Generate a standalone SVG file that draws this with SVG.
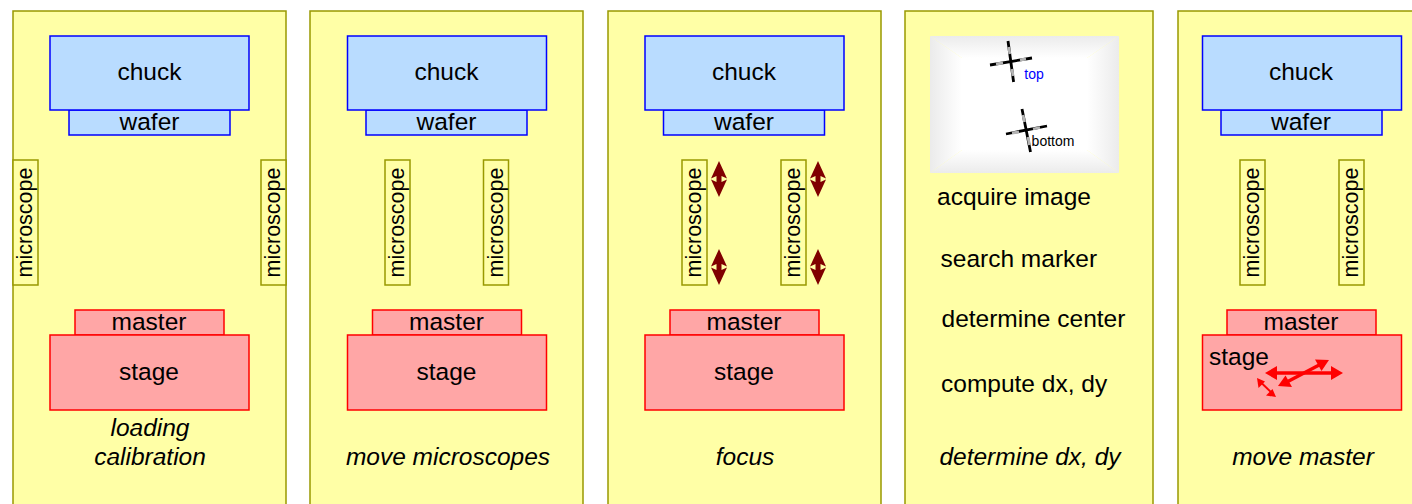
<svg xmlns="http://www.w3.org/2000/svg" width="1412" height="504" viewBox="0 0 1412 504">
<style>
text{font-family:"Liberation Sans",Arial,sans-serif;font-size:24.5px;fill:#000;text-anchor:middle}
.panel{fill:#ffffa6;stroke:#999900;stroke-width:1.5}
.blue{fill:#b9dcff;stroke:#0000ff;stroke-width:1.5}
.red{fill:#ffa6a6;stroke:#ff0000;stroke-width:1.5}
.mic{fill:#ffffa6;stroke:#999900;stroke-width:1.5}
.mict{font-size:21.5px}
.cap{font-style:italic}
.left{text-anchor:start}
.dark{fill:#800000}
.rl{stroke:#ff0000;stroke-width:3.4;fill:none}
.rf{fill:#ff0000}
.x{stroke:#000;stroke-width:2.8;fill:none}
.xg{stroke:#b4b4b4;stroke-width:2.8;fill:none}
</style>
<defs>
<linearGradient id="gt" x1="0" y1="0" x2="0" y2="1"><stop offset="0" stop-color="#ebebeb"/><stop offset="1" stop-color="#fff"/></linearGradient>
<linearGradient id="gb" x1="0" y1="1" x2="0" y2="0"><stop offset="0" stop-color="#ebebeb"/><stop offset="1" stop-color="#fff"/></linearGradient>
<linearGradient id="gl" x1="0" y1="0" x2="1" y2="0"><stop offset="0" stop-color="#ebebeb"/><stop offset="1" stop-color="#fff"/></linearGradient>
<linearGradient id="gr" x1="1" y1="0" x2="0" y2="0"><stop offset="0" stop-color="#ebebeb"/><stop offset="1" stop-color="#fff"/></linearGradient>
<path id="dbl" class="dark" d="M0,0L8,17.500L2.500,15V21L8,18.500L0,36L-8,18.500L-2.500,21V15L-8,17.500Z"/>
</defs>

<g id="panel1"><rect class="panel" x="13" y="11" width="273" height="520"/></g>
<g id="panel2"><rect class="panel" x="310" y="11" width="273" height="520"/></g>
<g id="panel3"><rect class="panel" x="608" y="11" width="273" height="520"/></g>
<g id="panel4"><rect class="panel" x="905" y="11" width="248" height="520"/></g>
<g id="panel5"><rect class="panel" x="1178" y="11" width="273" height="520"/></g>

<g id="p1-wafer"><rect class="blue" x="69" y="110" width="161" height="25"/><text x="149.5" y="130">wafer</text></g>
<g id="p1-chuck"><rect class="blue" x="50" y="36" width="199" height="74"/><text x="149.5" y="80">chuck</text></g>
<g id="p1-master"><rect class="red" x="75" y="310" width="149" height="25"/><text x="149" y="330">master</text></g>
<g id="p1-stage"><rect class="red" x="50" y="335" width="199" height="75"/><text x="149" y="380">stage</text></g>
<g id="p1-mic1"><rect class="mic" x="13" y="160" width="25" height="125"/><text class="mict" transform="translate(32,222.5) rotate(-90)">microscope</text></g>
<g id="p1-mic2"><rect class="mic" x="261" y="160" width="25" height="125"/><text class="mict" transform="translate(280,222.5) rotate(-90)">microscope</text></g>
<g id="p1-caption"><text class="cap" x="150" y="436">loading</text><text class="cap" x="150" y="465">calibration</text></g>

<g id="p2-wafer"><rect class="blue" x="366" y="110" width="161" height="25"/><text x="446.5" y="130">wafer</text></g>
<g id="p2-chuck"><rect class="blue" x="347.500" y="36" width="199" height="74"/><text x="446.500" y="80">chuck</text></g>
<g id="p2-master"><rect class="red" x="372.500" y="310" width="149" height="25"/><text x="446.500" y="330">master</text></g>
<g id="p2-stage"><rect class="red" x="347.500" y="335" width="199" height="75"/><text x="446.500" y="380">stage</text></g>
<g id="p2-mic1"><rect class="mic" x="385" y="160" width="25" height="125"/><text class="mict" transform="translate(404,222.5) rotate(-90)">microscope</text></g>
<g id="p2-mic2"><rect class="mic" x="483.500" y="160" width="25" height="125"/><text class="mict" transform="translate(502.500,222.5) rotate(-90)">microscope</text></g>
<g id="p2-caption"><text class="cap" x="448" y="465">move microscopes</text></g>

<g id="p3-wafer"><rect class="blue" x="663.500" y="110" width="161" height="25"/><text x="744" y="130">wafer</text></g>
<g id="p3-chuck"><rect class="blue" x="645" y="36" width="199" height="74"/><text x="744" y="80">chuck</text></g>
<g id="p3-master"><rect class="red" x="670" y="310" width="149" height="25"/><text x="744" y="330">master</text></g>
<g id="p3-stage"><rect class="red" x="645" y="335" width="199" height="75"/><text x="744" y="380">stage</text></g>
<g id="p3-mic1"><rect class="mic" x="682" y="160" width="25" height="125"/><text class="mict" transform="translate(701,222.5) rotate(-90)">microscope</text></g>
<g id="p3-mic2"><rect class="mic" x="781" y="160" width="25" height="125"/><text class="mict" transform="translate(800,222.5) rotate(-90)">microscope</text></g>
<g id="p3-caption"><text class="cap" x="745" y="465">focus</text></g>

<g id="p4-image">
<polygon points="930,36 1119,36 1087,58 962,58" fill="url(#gt)"/>
<polygon points="930,173 1119,173 1087,150 962,150" fill="url(#gb)"/>
<polygon points="930,36 962,58 962,150 930,173" fill="url(#gl)"/>
<polygon points="1119,36 1087,58 1087,150 1119,173" fill="url(#gr)"/>
<rect x="962" y="58" width="125" height="92" fill="#fff"/>
<path class="x" d="M1008,41L1013.600,82M990,65L1032,58"/>
<path class="xg" d="M1008.800,47L1009.800,54M1012,69L1013,76M996,64L1003,63M1020,60L1026,59"/>
<path class="x" d="M1022,109L1030.500,152M1006,134L1047,126"/>
<path class="xg" d="M1023,115L1024.500,122M1028,137L1029.500,145M1012,133L1019,132M1033,129L1040,127.500"/>
<text x="1034" y="78.500" style="font-size:14px;fill:#0000ff">top</text>
<text x="1053" y="145.500" style="font-size:14px">bottom</text>
</g>
<g id="p4-steps">
<text class="left" x="937" y="205">acquire image</text>
<text class="left" x="940.500" y="267">search marker</text>
<text class="left" x="941.500" y="327">determine center</text>
<text class="left" x="941" y="392">compute dx, dy</text>
</g>
<g id="p4-caption"><text class="cap" x="1030" y="465">determine dx, dy</text></g>

<g id="p5-wafer"><rect class="blue" x="1221" y="110" width="161" height="25"/><text x="1301" y="130">wafer</text></g>
<g id="p5-chuck"><rect class="blue" x="1202.500" y="36" width="199" height="74"/><text x="1301" y="80">chuck</text></g>
<g id="p5-master"><rect class="red" x="1227" y="310" width="149" height="25"/><text x="1301" y="330">master</text></g>
<g id="p5-stage"><rect class="red" x="1202.500" y="335" width="199" height="75"/><text class="left" x="1209" y="365">stage</text></g>
<g id="p5-mic1"><rect class="mic" x="1240" y="160" width="25" height="125"/><text class="mict" transform="translate(1259,222.5) rotate(-90)">microscope</text></g>
<g id="p5-mic2"><rect class="mic" x="1339" y="160" width="25" height="125"/><text class="mict" transform="translate(1358,222.5) rotate(-90)">microscope</text></g>
<g id="p5-caption"><text class="cap" x="1303" y="465">move master</text></g>

<g id="connectors">
<use href="#dbl" x="719" y="161"/>
<use href="#dbl" x="719" y="249"/>
<use href="#dbl" x="818" y="161"/>
<use href="#dbl" x="818" y="249"/>
<path class="rl" d="M1272,373H1335"/>
<path class="rf" d="M1265,373L1277,366V380Z"/>
<path class="rf" d="M1343,373L1331,366V380Z"/>
<path class="rl" d="M1285,383L1322,363.500"/>
<path class="rf" d="M1278,386L1285.500,375.500L1292,387Z"/>
<path class="rf" d="M1329,360L1315,359.500L1321.500,371Z"/>
<path class="rl" style="stroke-width:2" d="M1260,381.500L1272.500,393.500"/>
<path class="rf" d="M1257,378L1258.500,388L1265,381.500Z"/>
<path class="rf" d="M1276,397L1266,395.500L1272.500,389Z"/>
</g>
</svg>
